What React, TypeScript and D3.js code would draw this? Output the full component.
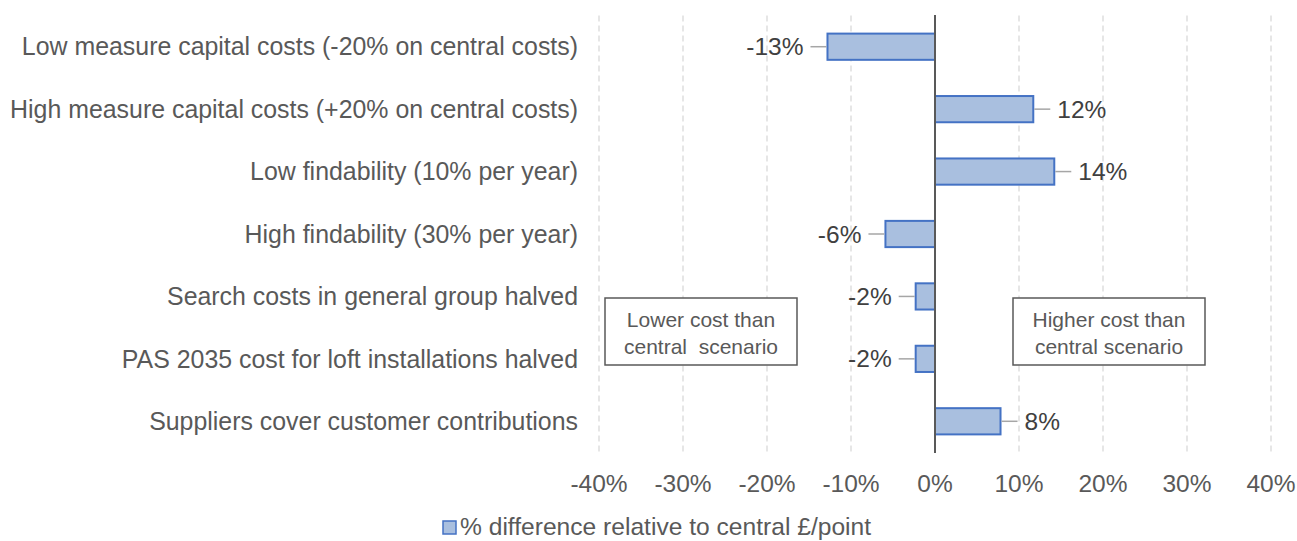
import React from "react";
import * as d3 from "d3";

const categories = [
  "Low measure capital costs (-20% on central costs)",
  "High measure capital costs (+20% on central costs)",
  "Low findability (10% per year)",
  "High findability (30% per year)",
  "Search costs in general group halved",
  "PAS 2035 cost for loft installations halved",
  "Suppliers cover customer contributions",
];
const values = [-0.128, 0.117, 0.142, -0.059, -0.023, -0.023, 0.078];
const valueLabels = ["-13%", "12%", "14%", "-6%", "-2%", "-2%", "8%"];
const xTicks = [-0.4, -0.3, -0.2, -0.1, 0, 0.1, 0.2, 0.3, 0.4];
const legendLabel = "% difference relative to central £/point";
const boxLeftLines = ["Lower cost than", "central  scenario"];
const boxRightLines = ["Higher cost than", "central scenario"];

const W = 1297;
const H = 541;
const FONT = "'Liberation Sans', Arial, sans-serif";
const TEXT = "#595959";

export default function App() {
  const x = d3.scaleLinear().domain([-0.4, 0.4]).range([599, 1271]);
  const y = d3
    .scaleBand<string>()
    .domain(categories)
    .range([15.5, 452.5])
    .paddingInner(0.58)
    .paddingOuter(0.29);
  const bw = y.bandwidth();
  const fmt = (t: number) => `${Math.round(t * 100)}%`;

  return (
    <div style={{ position: "absolute", left: 0, top: 0 }}>
      <svg width={W} height={H} style={{ display: "block", fontFamily: FONT }}>
        <rect width={W} height={H} fill="#fff" />
        {xTicks.map((t) => (
          <line
            key={"g" + t}
            x1={x(t)}
            x2={x(t)}
            y1={15.5}
            y2={452.5}
            stroke="#D9D9D9"
            strokeWidth={1.3}
            strokeDasharray="6,4"
          />
        ))}
        {xTicks.map((t) => (
          <text
            key={"t" + t}
            x={x(t)}
            y={492}
            textAnchor="middle"
            fontSize={24.5}
            fill={TEXT}
          >
            {fmt(t)}
          </text>
        ))}
        {categories.map((c) => (
          <text
            key={"c" + c}
            x={578}
            y={(y(c) as number) + bw / 2}
            dy="0.35em"
            textAnchor="end"
            fontSize={24.9}
            fill={TEXT}
          >
            {c}
          </text>
        ))}
        {categories.map((c, i) => {
          const v = values[i];
          const x0 = x(Math.min(0, v));
          const x1 = x(Math.max(0, v));
          const cy = (y(c) as number) + bw / 2;
          const end = v < 0 ? x0 : x1;
          const dir = v < 0 ? -1 : 1;
          return (
            <g key={"b" + c}>
              <rect
                x={x0}
                y={y(c)}
                width={x1 - x0}
                height={bw}
                fill="#A9BFDF"
                stroke="#4472C4"
                strokeWidth={2}
              />
              <line
                x1={end + dir * 1}
                x2={end + dir * 17}
                y1={cy}
                y2={cy}
                stroke="#A6A6A6"
                strokeWidth={1.5}
              />
              <text
                x={end + dir * 24}
                y={cy}
                dy="0.35em"
                textAnchor={v < 0 ? "end" : "start"}
                fontSize={24.5}
                fill="#404040"
              >
                {valueLabels[i]}
              </text>
            </g>
          );
        })}
        <line x1={x(0)} x2={x(0)} y1={15} y2={453} stroke="#595959" strokeWidth={2} />
        <g>
          <rect x={605} y={298} width={192} height={67} fill="#fff" stroke="#595959" strokeWidth={1.5} />
          {boxLeftLines.map((l, i) => (
            <text key={l} x={701} y={320 + i * 27} dy="0.35em" textAnchor="middle" fontSize={21} fill={TEXT} style={{ whiteSpace: "pre" }}>
              {l}
            </text>
          ))}
          <rect x={1013} y={298} width={192} height={67} fill="#fff" stroke="#595959" strokeWidth={1.5} />
          {boxRightLines.map((l, i) => (
            <text key={l} x={1109} y={320 + i * 27} dy="0.35em" textAnchor="middle" fontSize={21} fill={TEXT}>
              {l}
            </text>
          ))}
        </g>
        <g>
          <rect x={443} y={521} width={13} height={13} fill="#A9BFDF" stroke="#4472C4" strokeWidth={1.5} />
          <text x={460} y={526} dy="0.35em" fontSize={24.6} fill={TEXT}>
            {legendLabel}
          </text>
        </g>
      </svg>
    </div>
  );
}
